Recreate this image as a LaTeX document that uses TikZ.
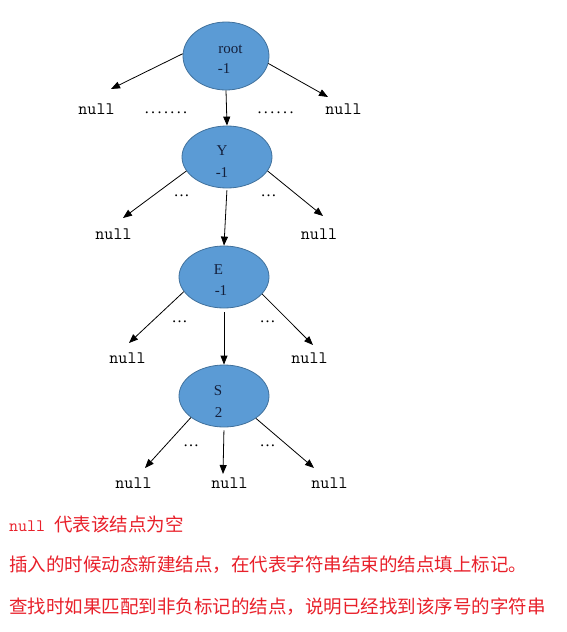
\documentclass[tikz,border=0pt]{standalone}
\usepackage{fontspec}
\setmainfont{Liberation Serif}
\setmonofont{Latin Modern Mono}
\newfontfamily\cjkfnt{Noto Sans CJK SC}
\usetikzlibrary{shapes.geometric,arrows.meta}
\definecolor{nodefill}{HTML}{5B9BD5}
\definecolor{nodeedge}{HTML}{41719C}
\definecolor{lblcol}{HTML}{14203C}
\definecolor{redtxt}{HTML}{E8202A}
\newcommand\dd{.\kern2.4pt}
\begin{document}
\begin{tikzpicture}[x=1pt,y=-1pt,
  trienode/.style={ellipse,draw=nodeedge,line width=0.8pt,fill=nodefill,inner sep=0pt},
  lbl/.style={font=\fontsize{15}{15}\selectfont,text=lblcol,inner sep=0pt,anchor=base},
  nul/.style={font=\ttfamily\fontsize{17.5}{17.5}\selectfont,inner sep=0pt,anchor=base},
  dts/.style={font=\fontsize{16}{16}\selectfont,inner sep=0pt,anchor=base},
  arr/.style={-{Triangle[length=9pt,width=7pt]},line width=0.8pt},
  note/.style={font=\cjkfnt\fontsize{18.5}{20}\selectfont,text=redtxt,inner sep=0pt,anchor=base west}]
\useasboundingbox (0,0) rectangle (567,632);

% trie nodes
\node[trienode,minimum width=86pt,minimum height=68pt] (root) at (226,56) {};
\node[trienode,minimum width=90pt,minimum height=62pt] (Y) at (227,157) {};
\node[trienode,minimum width=90pt,minimum height=62pt] (E) at (224,277) {};
\node[trienode,minimum width=90pt,minimum height=62pt] (S) at (224,396) {};

% labels inside nodes
\node[lbl] (rootA) at (230.5,53) {root};
\node[lbl] (rootB) at (224,73) {-1};
\node[lbl] (YA) at (222,155) {Y};
\node[lbl] (YB) at (222,177) {-1};
\node[lbl] (EA) at (218.5,274) {E};
\node[lbl] (EB) at (221,295) {-1};
\node[lbl] (SA) at (218,395) {S};
\node[lbl] (SB) at (218.5,417) {2};

% null leaves
\node[nul] (n1) at (96.5,114) {null};
\node[nul] (n2) at (343.5,114) {null};
\node[nul] (n3) at (113.5,239) {null};
\node[nul] (n4) at (319,239) {null};
\node[nul] (n5) at (127.5,363) {null};
\node[nul] (n6) at (309.5,363) {null};
\node[nul] (n7) at (133.5,488) {null};
\node[nul] (n8) at (229.5,488) {null};
\node[nul] (n9) at (329.5,488) {null};

% dots
\node[dts] (d1) at (166,113) {\dd\dd\dd\dd\dd\dd.};
\node[dts] (d2) at (275.5,113) {\dd\dd\dd\dd\dd.};
\node[dts] (d3) at (181.5,196) {…};
\node[dts] (d4) at (268.5,196) {…};
\node[dts] (d5) at (179.5,322) {…};
\node[dts] (d6) at (267.5,322) {…};
\node[dts] (d7) at (191,446) {…};
\node[dts] (d8) at (267.5,446) {…};

% arrow end points
\coordinate (rL) at (111,89);
\coordinate (rR) at (328,97);
\coordinate (yL) at (123,218);
\coordinate (yR) at (323,216);
\coordinate (eL) at (129,343);
\coordinate (eR) at (313,345);
\coordinate (sL) at (145,468);
\coordinate (sM) at (223,474);
\coordinate (sR) at (314,468);

% connectors
\draw[arr] (root.177) -- (rL);
\draw[arr] (root.-10) -- (rR);
\draw[arr] (root.south) -- (Y.north);
\draw[arr] (Y.199) -- (yL);
\draw[arr] (Y.-19) -- (yR);
\draw[arr,shorten <=2pt] (Y.south) -- (E.north);
\draw[arr] (E.200) -- (eL);
\draw[arr] (E.-24) -- (eR);
\draw[arr,shorten <=4pt] (E.south) -- (S.north);
\draw[arr] (S.213) -- (sL);
\draw[arr,shorten <=3pt] (S.south) -- (sM);
\draw[arr] (S.-35) -- (sR);

% notes
\node[note] (t1) at (9,531) {{\ttfamily\fontsize{17.5}{17.5}\selectfont null }代表该结点为空};
\node[note] (t2) at (9,571) {插入的时候动态新建结点，在代表字符串结束的结点填上标记。};
\node[note] (t3) at (9,613) {查找时如果匹配到非负标记的结点，说明已经找到该序号的字符串};
\end{tikzpicture}
\end{document}
